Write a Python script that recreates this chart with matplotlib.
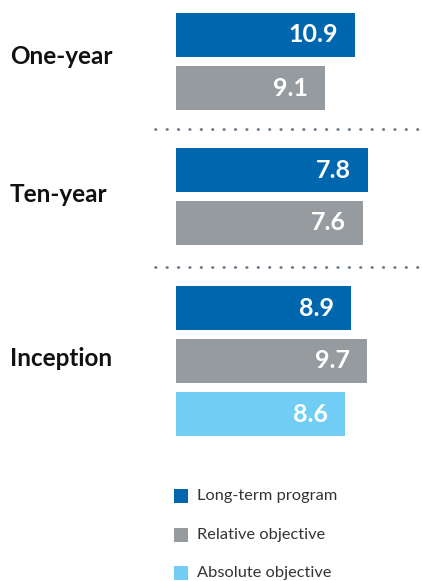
import matplotlib
matplotlib.use("Agg")
import matplotlib.pyplot as plt
from matplotlib.patches import Rectangle

groups = ["One-year", "Ten-year", "Inception"]
series = ["Long-term program", "Relative objective", "Absolute objective"]
values = [
    [10.9, 9.1],
    [7.8, 7.6],
    [8.9, 9.7, 8.6],
]
group_xmax = [15.0, 10.0, 12.5]

colors = ["#0066AE", "#969BA0", "#71CDF4"]

W, H = 422, 581
DPI = 100
fig = plt.figure(figsize=(W / DPI, H / DPI), dpi=DPI)
fig.patch.set_facecolor("white")

FONT = ["Lato", "DejaVu Sans"]

group_tops = [13, 148, 286]
label_y = [57, 195, 359]
pitch = 53.0
bar_h = 44.0
ax_left = 176
ax_right = 422

for gi, (g, vals, xmax, top, ly) in enumerate(zip(groups, values, group_xmax, group_tops, label_y)):
    n = len(vals)
    hpx = (n - 1) * pitch + bar_h
    ax = fig.add_axes([ax_left / W, 1 - (top + hpx) / H, (ax_right - ax_left) / W, hpx / H])
    ax.set_xlim(0, xmax)
    half = (bar_h / pitch) / 2
    ax.set_ylim(n - 1 + half, -half)
    ax.barh(range(n), vals, height=bar_h / pitch, color=colors[:n], edgecolor="none")
    for i, v in enumerate(vals):
        ax.annotate(f"{v}", xy=(v, i), xytext=(-17, 0), textcoords="offset pixels",
                    ha="right", va="center", color="white", fontsize=18,
                    fontweight="bold", family=FONT)
    ax.axis("off")
    fig.text(10 / W, 1 - ly / H, g, ha="left", va="center", fontsize=17.5,
             fontweight="bold", color="#111111", family=FONT)

# dotted separators
for yline in [129, 267]:
    fig.add_artist(plt.Line2D([155 / W, 420 / W], [1 - yline / H, 1 - yline / H],
                              linestyle=(0, (0.2, 3.9)), linewidth=2.0,
                              color="#6E7B88", dash_capstyle="round"))

# legend
leg_y = [496, 535, 573]
for s, c, y in zip(series, colors, leg_y):
    fig.add_artist(Rectangle((174 / W, 1 - (y + 7) / H), 14 / W, 14 / H,
                             transform=fig.transFigure, facecolor=c, edgecolor="none"))
    fig.text(197 / W, 1 - y / H, s, ha="left", va="center", fontsize=11.8,
             color="#333333", family=FONT)

fig.savefig("out.png", dpi=DPI)
